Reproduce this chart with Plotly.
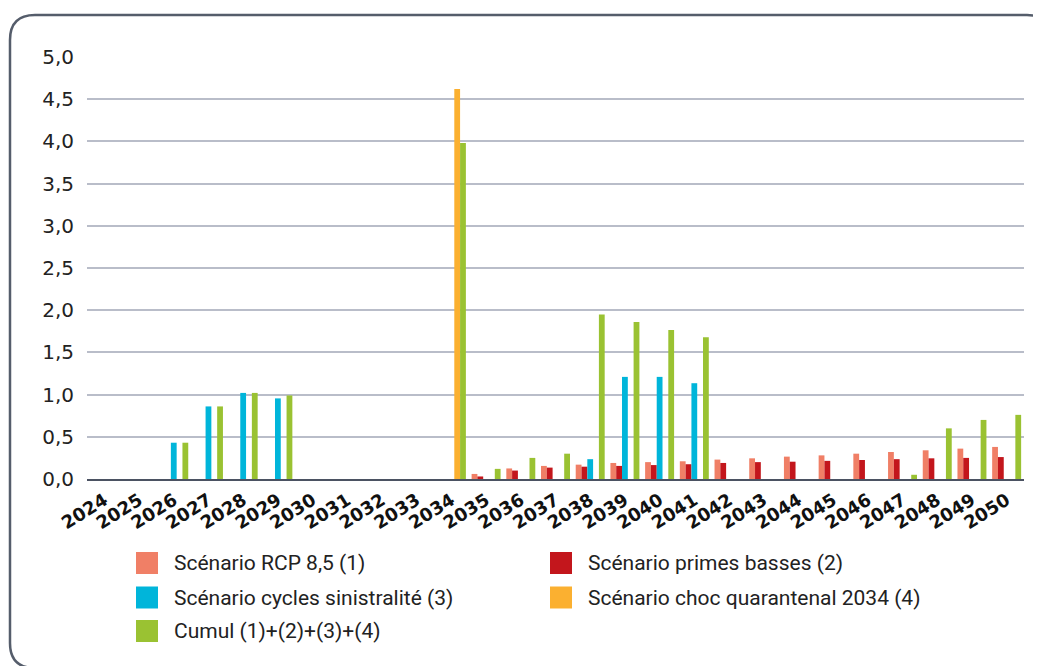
import plotly.graph_objects as go

years = [str(y) for y in range(2024, 2051)]

rcp85 = [None] * 11 + [0.06, 0.125, 0.155, 0.17, 0.19, 0.20, 0.21, 0.23, 0.245,
                       0.265, 0.28, 0.30, 0.32, 0.34, 0.36, 0.38]
primes_basses = [None] * 11 + [0.03, 0.10, 0.135, 0.146, 0.155, 0.165, 0.175, 0.19,
                               0.20, 0.205, 0.215, 0.225, 0.235, 0.245, 0.25, 0.26]
cycles_sinistralite = [None, None, 0.43, 0.86, 1.02, 0.955, None, None, None, None,
                       None, None, None, None, 0.235, 1.21, 1.21, 1.135, None, None,
                       None, None, None, None, None, None, None]
choc_quarantenal = [None] * 10 + [4.62] + [None] * 16
cumul = [None, None, 0.43, 0.86, 1.02, 0.99, None, None, None, None, 3.98, 0.12,
         0.25, 0.30, 1.95, 1.86, 1.765, 1.68, None, None, None, None, None, 0.05,
         0.60, 0.70, 0.76]

series_names = ["Scénario RCP 8,5 (1)", "Scénario primes basses (2)",
                "Scénario cycles sinistralité (3)", "Scénario choc quarantenal 2034 (4)",
                "Cumul (1)+(2)+(3)+(4)"]
series_values = [rcp85, primes_basses, cycles_sinistralite, choc_quarantenal, cumul]
series_colors = ["#F07F66", "#C3161C", "#00B5DA", "#FBB030", "#9AC232"]

y_ticks = [0, 0.5, 1.0, 1.5, 2.0, 2.5, 3.0, 3.5, 4.0, 4.5, 5.0]

# page geometry (the page body has an 8px margin)
OFF = 8
PAGE_W, PAGE_H = 1041, 666
W, H = PAGE_W - OFF, PAGE_H - OFF
# plot area in page pixels: x 87..1024, y 57..479
ML, MR, MT, MB = 87 - OFF, PAGE_W - 1024, 57 - OFF, PAGE_H - 479
pw = W - ML - MR
ph = H - MT - MB


def page2paper(x, y):
    fx, fy = x - OFF, y - OFF
    return (fx - ML) / pw, (H - MB - fy) / ph


fig = go.Figure()
for name, vals, col in zip(series_names, series_values, series_colors):
    fig.add_trace(go.Bar(x=years, y=vals, name=name, marker_color=col,
                         marker_line_width=0, showlegend=False))

# rounded frame
pts = [("M", 35, 15), ("L", 1027, 15), ("Q", 1052, 15), (None, 1052, 40),
       ("L", 1052, 643), ("Q", 1052, 668), (None, 1027, 668), ("L", 35, 668),
       ("Q", 10, 668), (None, 10, 643), ("L", 10, 40), ("Q", 10, 15), (None, 35, 15)]
path = ""
for cmd, x, y in pts:
    xp, yp = page2paper(x, y)
    path += (cmd if cmd else " ") + f"{xp:.5f},{yp:.5f} "
path += "Z"
fig.add_shape(type="path", xref="paper", yref="paper", path=path,
              line=dict(color="#555d6b", width=2.5), layer="below")

# legend (two columns, drawn as squares + text)
leg_cols = [136, 550]
leg_rows = [563, 597.5, 631]
leg_pos = [(0, 0), (1, 0), (0, 1), (1, 1), (0, 2)]
for (ci, ri), name, col in zip(leg_pos, series_names, series_colors):
    x0, yc = leg_cols[ci], leg_rows[ri]
    ax0, ay0 = page2paper(x0, yc + 11)
    ax1, ay1 = page2paper(x0 + 22, yc - 11)
    fig.add_shape(type="rect", xref="paper", yref="paper", x0=ax0, y0=ay0,
                  x1=ax1, y1=ay1, fillcolor=col, line=dict(width=0))
    tx, ty = page2paper(x0 + 36, yc)
    fig.add_annotation(xref="paper", yref="paper", x=tx, y=ty, text=name,
                       showarrow=False, xanchor="left", yanchor="middle",
                       font=dict(family="Roboto", size=21, color="#222222"))

fig.update_layout(
    template="none",
    width=W, height=H,
    margin=dict(l=ML, r=MR, t=MT, b=MB, autoexpand=False),
    paper_bgcolor="white", plot_bgcolor="white",
    barmode="group", bargap=0.165, bargroupgap=0,
    separators=",.",
    showlegend=False,
    xaxis=dict(type="category", tickangle=-32, showgrid=False, showline=True,
               linecolor="#4b5262", linewidth=2, ticks="", zeroline=False,
               ticklabelstandoff=2,
               tickfont=dict(family="DejaVu Sans", size=18, color="#111111",
                             weight="bold"),
               automargin=False),
    yaxis=dict(range=[0, 5], tickvals=y_ticks, tickformat=".1f", showgrid=True,
               gridcolor="#b9bdc9", gridwidth=1.5, zeroline=False, showline=False,
               ticks="", ticklabelstandoff=12,
               tickfont=dict(family="DejaVu Sans", size=20, color="#222222"),
               automargin=False),
)

fig.write_html("out.html")
